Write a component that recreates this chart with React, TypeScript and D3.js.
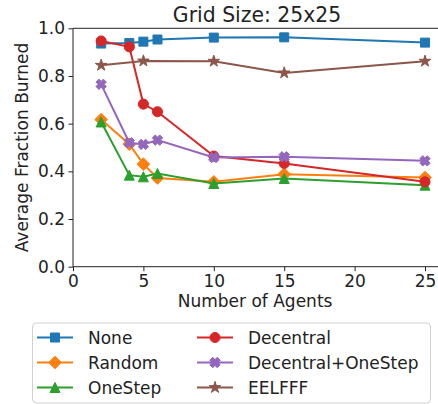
import React, { useEffect, useRef } from 'react';
import * as d3 from 'd3';

// number of agents on the x axis
const agents = [2, 4, 5, 6, 10, 15, 25];
const eelfffAgents = [2, 5, 10, 15, 25];

// average fraction burned per strategy
const noneValues = [0.936, 0.938, 0.944, 0.953, 0.961, 0.962, 0.94];
const randomValues = [0.617, 0.514, 0.43, 0.372, 0.356, 0.388, 0.374];
const oneStepValues = [0.607, 0.384, 0.377, 0.391, 0.349, 0.37, 0.342];
const decentralValues = [0.947, 0.922, 0.682, 0.65, 0.464, 0.433, 0.356];
const decentralOneStepValues = [0.765, 0.52, 0.513, 0.531, 0.458, 0.461, 0.444];
const eelfffValues = [0.845, 0.863, 0.862, 0.813, 0.862];

const xTicks = [0, 5, 10, 15, 20, 25];
const yTicks = [0, 0.2, 0.4, 0.6, 0.8, 1.0];

const title = 'Grid Size: 25x25';
const xLabel = 'Number of Agents';
const yLabel = 'Average Fraction Burned';

// custom marker shapes (matplotlib style)
const symbolDiamond = {
  draw(ctx, size) {
    const r = (Math.sqrt(size) / 2) * Math.SQRT2;
    ctx.moveTo(0, -r);
    ctx.lineTo(r, 0);
    ctx.lineTo(0, r);
    ctx.lineTo(-r, 0);
    ctx.closePath();
  },
};

const symbolTriangleUp = {
  draw(ctx, size) {
    const r = Math.sqrt(size) / 2;
    ctx.moveTo(0, -r);
    ctx.lineTo(r, r);
    ctx.lineTo(-r, r);
    ctx.closePath();
  },
};

const symbolXFilled = {
  draw(ctx, size) {
    const r = Math.sqrt(size) / 2;
    const w = r * 0.4;
    const pts = [
      [w, r], [w, w], [r, w], [r, -w], [w, -w], [w, -r],
      [-w, -r], [-w, -w], [-r, -w], [-r, w], [-w, w], [-w, r],
    ];
    const c = Math.SQRT1_2;
    pts.forEach(([x, y], i) => {
      const px = x * c - y * c;
      const py = x * c + y * c;
      if (i === 0) ctx.moveTo(px, py);
      else ctx.lineTo(px, py);
    });
    ctx.closePath();
  },
};

const series = [
  { name: 'None', x: agents, y: noneValues, color: '#1f77b4', type: d3.symbolSquare, size: 81 },
  { name: 'Random', x: agents, y: randomValues, color: '#ff7f0e', type: symbolDiamond, size: 80 },
  { name: 'OneStep', x: agents, y: oneStepValues, color: '#2ca02c', type: symbolTriangleUp, size: 100 },
  { name: 'Decentral', x: agents, y: decentralValues, color: '#d62728', type: d3.symbolCircle, size: 80 },
  { name: 'Decentral+OneStep', x: agents, y: decentralOneStepValues, color: '#9467bd', type: symbolXFilled, size: 110 },
  { name: 'EELFFF', x: eelfffAgents, y: eelfffValues, color: '#8c564b', type: d3.symbolStar, size: 42 },
];

const App = () => {
  const svgRef = useRef(null);
  const width = 438;
  const height = 404;

  useEffect(() => {
    const svg = d3.select(svgRef.current);
    svg.selectAll('*').remove();

    const font = '"DejaVu Sans", sans-serif';
    const ink = '#222';

    const xScale = d3.scaleLinear().domain([0, 26.15]).range([73, 441.2]);
    const yScale = d3.scaleLinear().domain([0, 1]).range([266.7, 28.3]);

    const plotTop = yScale(1);
    const plotBottom = yScale(0);
    const plotLeft = xScale(0);
    const plotRight = xScale(26.15);

    // spines (right one falls outside the picture)
    const spines = svg.append('g').attr('stroke', ink).attr('stroke-width', 1).attr('fill', 'none');
    spines.append('line').attr('x1', plotLeft).attr('x2', plotRight).attr('y1', plotTop).attr('y2', plotTop);
    spines.append('line').attr('x1', plotLeft).attr('x2', plotRight).attr('y1', plotBottom).attr('y2', plotBottom);
    spines.append('line').attr('x1', plotLeft).attr('x2', plotLeft).attr('y1', plotTop).attr('y2', plotBottom);

    // x axis
    const xAxis = d3.axisBottom(xScale).tickValues(xTicks).tickSize(4.5).tickPadding(3.5).tickFormat(d3.format('d'));
    const gx = svg.append('g').attr('transform', `translate(0, ${plotBottom})`).call(xAxis);
    gx.select('.domain').remove();
    gx.selectAll('line').attr('stroke', ink);
    gx.selectAll('text').attr('fill', ink).attr('font-size', 17).attr('font-family', font);

    // y axis
    const yAxis = d3.axisLeft(yScale).tickValues(yTicks).tickSize(4.5).tickPadding(3.5).tickFormat(d3.format('.1f'));
    const gy = svg.append('g').attr('transform', `translate(${plotLeft}, 0)`).call(yAxis);
    gy.select('.domain').remove();
    gy.selectAll('line').attr('stroke', ink);
    gy.selectAll('text').attr('fill', ink).attr('font-size', 17).attr('font-family', font);

    // title and axis labels
    const mid = (plotLeft + plotRight) / 2;
    svg.append('text')
      .attr('x', mid).attr('y', 22)
      .attr('text-anchor', 'middle')
      .attr('font-family', font).attr('font-size', 20.4).attr('fill', ink)
      .text(title);

    svg.append('text')
      .attr('x', mid - 2).attr('y', 307)
      .attr('text-anchor', 'middle')
      .attr('font-family', font).attr('font-size', 17).attr('fill', ink)
      .text(xLabel);

    svg.append('text')
      .attr('transform', `translate(28, ${(plotTop + plotBottom) / 2}) rotate(-90)`)
      .attr('text-anchor', 'middle')
      .attr('font-family', font).attr('font-size', 17).attr('fill', ink)
      .text(yLabel);

    // series: line then markers, drawn in order
    const line = d3.line()
      .x(d => xScale(d[0]))
      .y(d => yScale(d[1]));

    series.forEach(s => {
      const pts = s.x.map((x, i) => [x, s.y[i]]);
      const g = svg.append('g');
      g.append('path')
        .datum(pts)
        .attr('d', line)
        .attr('fill', 'none')
        .attr('stroke', s.color)
        .attr('stroke-width', 2);
      const sym = d3.symbol().type(s.type).size(s.size);
      g.selectAll('path.marker')
        .data(pts)
        .join('path')
        .attr('class', 'marker')
        .attr('transform', d => `translate(${xScale(d[0])}, ${yScale(d[1])})`)
        .attr('d', sym())
        .attr('fill', s.color)
        .attr('stroke', s.color)
        .attr('stroke-width', 1);
    });

    // legend
    const legend = svg.append('g');
    legend.append('rect')
      .attr('x', 32.5).attr('y', 323)
      .attr('width', 398).attr('height', 80)
      .attr('rx', 4).attr('ry', 4)
      .attr('fill', '#fff').attr('fill-opacity', 0.8)
      .attr('stroke', '#d0d0d0').attr('stroke-width', 1);

    const colX = [37, 197];
    const rowY = [337.5, 362.5, 387.5];
    series.forEach((s, i) => {
      const cx = colX[Math.floor(i / 3)];
      const cy = rowY[i % 3];
      const item = legend.append('g');
      item.append('line')
        .attr('x1', cx).attr('x2', cx + 36)
        .attr('y1', cy).attr('y2', cy)
        .attr('stroke', s.color).attr('stroke-width', 2);
      item.append('path')
        .attr('transform', `translate(${cx + 18}, ${cy})`)
        .attr('d', d3.symbol().type(s.type).size(s.size)())
        .attr('fill', s.color)
        .attr('stroke', s.color)
        .attr('stroke-width', 1);
      item.append('text')
        .attr('x', cx + 51).attr('y', cy + 6)
        .attr('font-family', font).attr('font-size', 17).attr('fill', ink)
        .text(s.name);
    });
  }, []);

  return (
    <div style={{ position: 'absolute', left: 0, top: 0 }}>
      <svg ref={svgRef} width={width} height={height} style={{ display: 'block', background: '#fff' }} />
    </div>
  );
};

export default App;
